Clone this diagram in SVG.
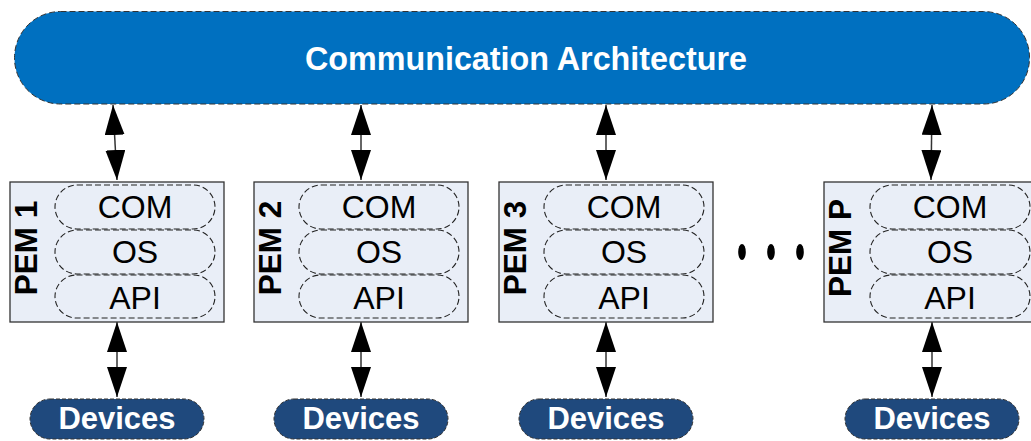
<svg xmlns="http://www.w3.org/2000/svg" width="1031" height="441" viewBox="0 0 1031 441">
<style>
.bar{fill:#0070C0;stroke:#333;stroke-width:1;stroke-dasharray:6,3}
.box{fill:#E9EEF7;stroke:#333;stroke-width:1.3}
.pill{fill:none;stroke:#222;stroke-width:1.1;stroke-dasharray:6,3}
.dev{fill:#1F497D;stroke:#333;stroke-width:1;stroke-dasharray:4,2}
.t{font-family:"Liberation Sans",Arial,sans-serif;fill:#000;font-size:32px;text-anchor:middle}
.lbl{font-family:"Liberation Sans",Arial,sans-serif;fill:#000;font-size:31.5px;font-weight:bold;text-anchor:middle}
.wt{font-family:"Liberation Sans",Arial,sans-serif;fill:#fff;font-weight:bold;text-anchor:middle}
.con{stroke:#333;stroke-width:1.5;fill:none;marker-start:url(#ah);marker-end:url(#ah)}
</style>
<defs>
<marker id="ah" viewBox="0 0 30 20" refX="30" refY="10" markerWidth="30" markerHeight="20" markerUnits="userSpaceOnUse" orient="auto-start-reverse">
<path d="M0,0 L30,10 L0,20 z" fill="#000"/>
</marker>
</defs>
<g id="comm-arch">
<rect class="bar" x="14.5" y="11.5" width="1015" height="92.5" rx="46" ry="46"/>
<text class="wt" x="526" y="70" font-size="32.3">Communication Architecture</text>
</g>
<g id="connectors">
<line class="con" x1="113" y1="105" x2="117" y2="180"/>
<line class="con" x1="361" y1="105" x2="361" y2="180"/>
<line class="con" x1="606" y1="105" x2="606" y2="180"/>
<line class="con" x1="932" y1="105" x2="931" y2="180"/>
<line class="con" x1="117" y1="322" x2="117" y2="397"/>
<line class="con" x1="361" y1="322" x2="361" y2="397"/>
<line class="con" x1="606" y1="322" x2="606" y2="397"/>
<line class="con" x1="932" y1="322" x2="932" y2="397"/>
</g>
<g id="pem1">
<rect class="box" x="10" y="182" width="214" height="140"/>
<text class="lbl" transform="translate(37,248) rotate(-90)">PEM 1</text>
<rect class="pill" x="55" y="185" width="160" height="44" rx="22"/>
<rect class="pill" x="55" y="230" width="160" height="44" rx="22"/>
<rect class="pill" x="55" y="275" width="160" height="43" rx="21.5"/>
<text class="t" x="135" y="218">COM</text>
<text class="t" x="135" y="263">OS</text>
<text class="t" x="135" y="309">API</text>
</g>
<g id="pem2">
<rect class="box" x="254" y="182" width="214" height="140"/>
<text class="lbl" transform="translate(281,248) rotate(-90)">PEM 2</text>
<rect class="pill" x="299" y="185" width="160" height="44" rx="22"/>
<rect class="pill" x="299" y="230" width="160" height="44" rx="22"/>
<rect class="pill" x="299" y="275" width="160" height="43" rx="21.5"/>
<text class="t" x="379" y="218">COM</text>
<text class="t" x="379" y="263">OS</text>
<text class="t" x="379" y="309">API</text>
</g>
<g id="pem3">
<rect class="box" x="499" y="182" width="214" height="140"/>
<text class="lbl" transform="translate(526,248) rotate(-90)">PEM 3</text>
<rect class="pill" x="544" y="185" width="160" height="44" rx="22"/>
<rect class="pill" x="544" y="230" width="160" height="44" rx="22"/>
<rect class="pill" x="544" y="275" width="160" height="43" rx="21.5"/>
<text class="t" x="624" y="218">COM</text>
<text class="t" x="624" y="263">OS</text>
<text class="t" x="624" y="309">API</text>
</g>
<g id="ellipsis">
<ellipse cx="742" cy="252" rx="3.8" ry="8"/>
<ellipse cx="771" cy="252" rx="3.8" ry="8"/>
<ellipse cx="800" cy="252" rx="3.8" ry="8"/>
</g>
<g id="pemP">
<rect class="box" x="824" y="182" width="214" height="140"/>
<text class="lbl" transform="translate(851,248) rotate(-90)">PEM P</text>
<rect class="pill" x="870" y="185" width="160" height="44" rx="22"/>
<rect class="pill" x="870" y="230" width="160" height="44" rx="22"/>
<rect class="pill" x="870" y="275" width="160" height="43" rx="21.5"/>
<text class="t" x="950" y="218">COM</text>
<text class="t" x="950" y="263">OS</text>
<text class="t" x="950" y="309">API</text>
</g>
<g id="dev1">
<rect class="dev" x="30" y="399" width="174" height="40" rx="20"/>
<text class="wt" x="117" y="429" font-size="31">Devices</text>
</g>
<g id="dev2">
<rect class="dev" x="274" y="399" width="174" height="40" rx="20"/>
<text class="wt" x="361" y="429" font-size="31">Devices</text>
</g>
<g id="dev3">
<rect class="dev" x="519" y="399" width="174" height="40" rx="20"/>
<text class="wt" x="606" y="429" font-size="31">Devices</text>
</g>
<g id="devP">
<rect class="dev" x="845" y="399" width="174" height="40" rx="20"/>
<text class="wt" x="932" y="429" font-size="31">Devices</text>
</g>
</svg>
